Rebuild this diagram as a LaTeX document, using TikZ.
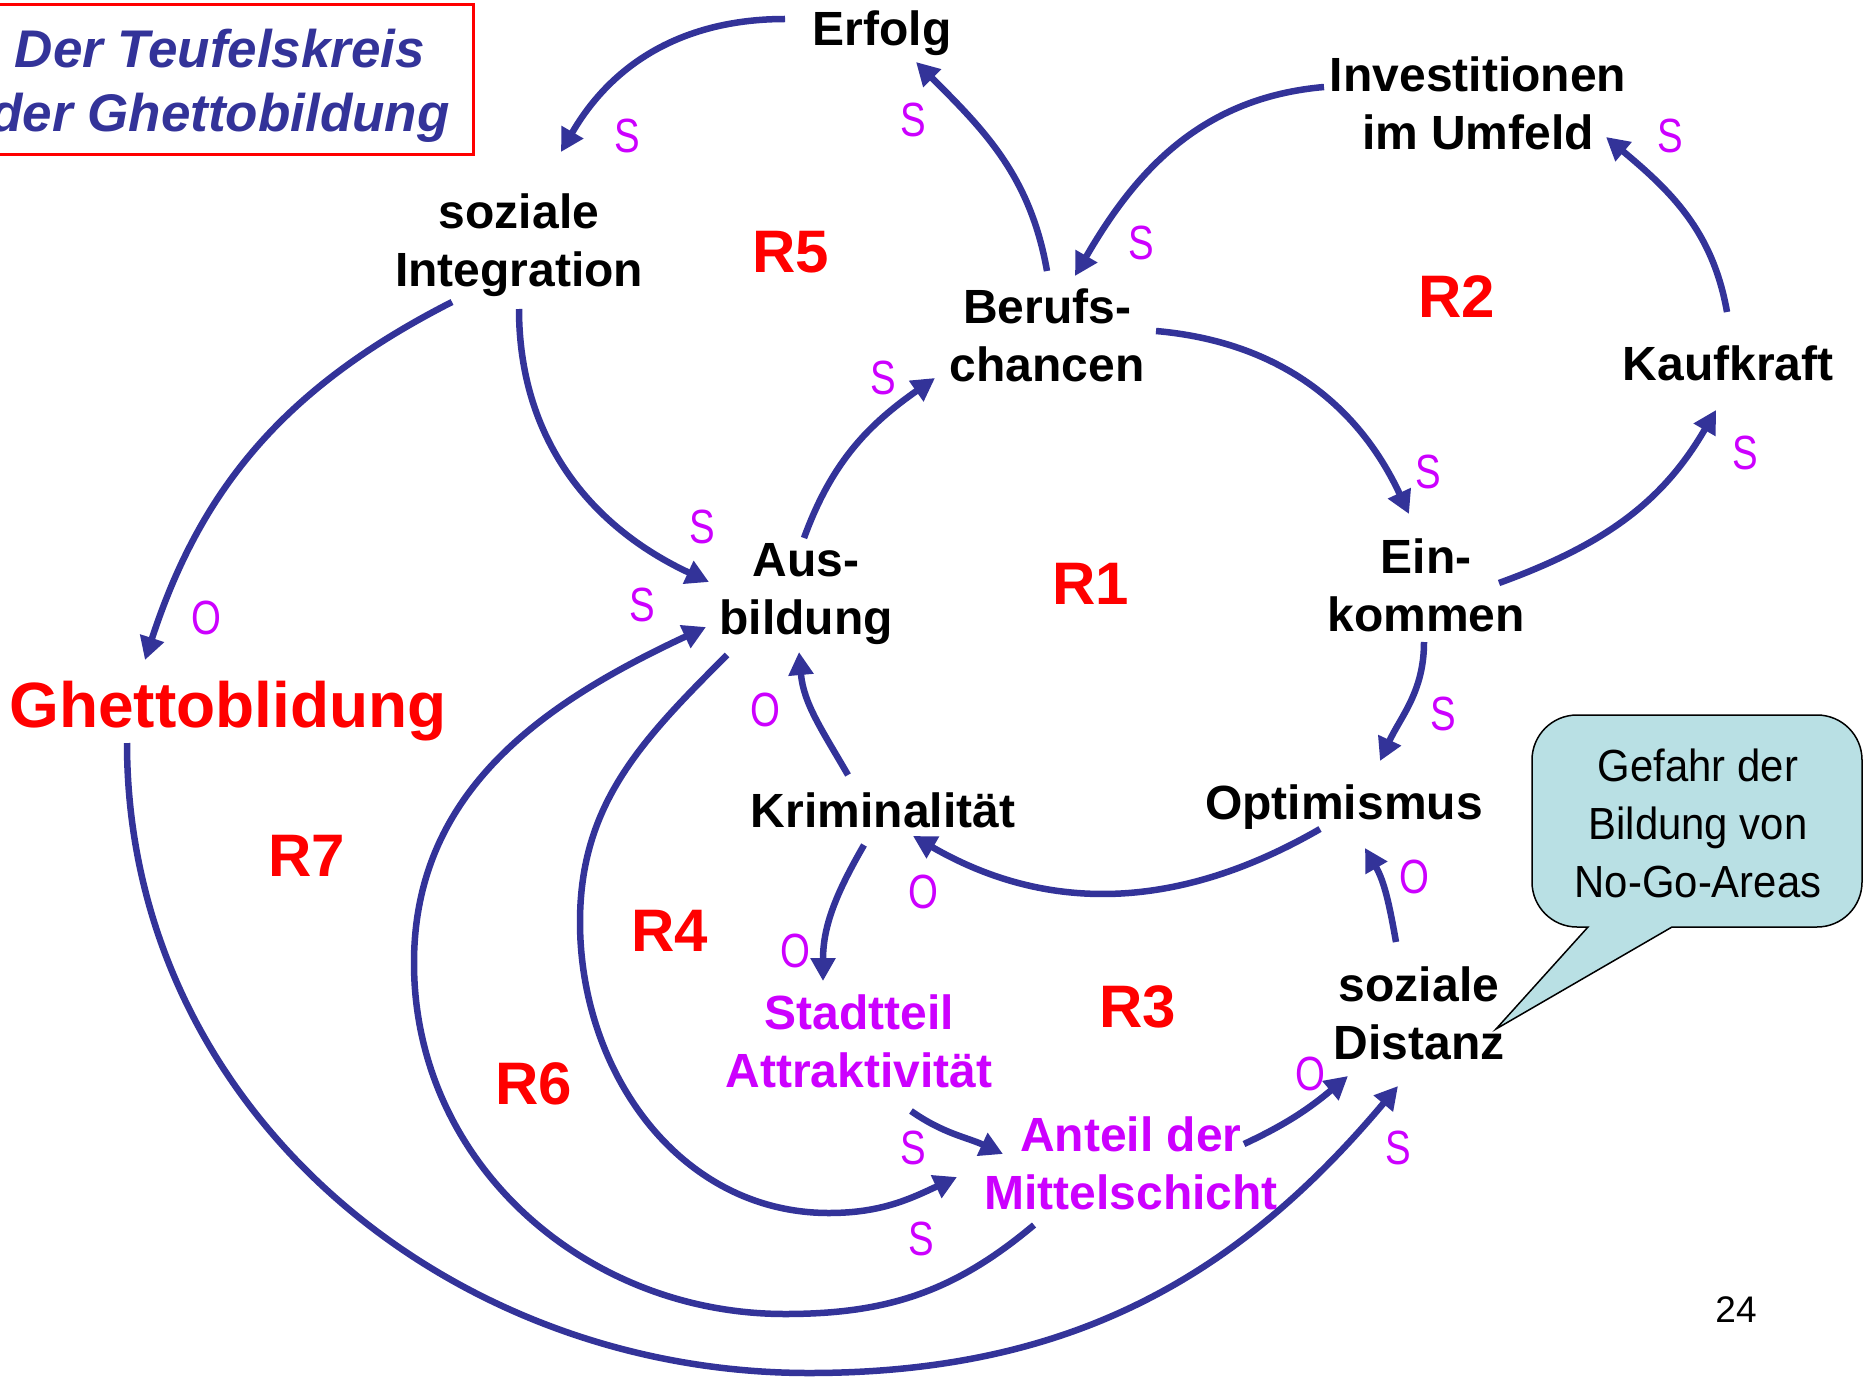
\documentclass[tikz,border=0pt]{standalone}
\usepackage{fontspec}
\setmainfont{Liberation Sans}
\newfontfamily\narrowfont[FakeStretch=0.8]{Liberation Sans}
\newfontfamily\calloutfont[FakeStretch=0.93]{Liberation Sans}
\usetikzlibrary{arrows.meta}
\definecolor{arrblue}{RGB}{51,51,153}
\definecolor{mag}{RGB}{204,0,255}
\definecolor{callfill}{RGB}{185,224,228}
\begin{document}
\begin{tikzpicture}[x=1pt,y=1pt,
  var/.style={font=\fontsize{48}{58}\selectfont\bfseries, align=center, text=black, inner sep=0pt},
  magvar/.style={var, text=mag},
  loopname/.style={font=\fontsize{60}{72}\selectfont\bfseries, text=red, inner sep=0pt},
  pol/.style={font=\narrowfont\fontsize{48}{58}\selectfont, text=mag, inner sep=0pt},
  link/.style={draw=arrblue, line width=6.5pt, -{Triangle[length=23pt,width=24pt]}},
  titlestyle/.style={font=\fontsize{53}{64}\selectfont\bfseries\itshape, text=arrblue, align=center, inner sep=0pt},
  callt/.style={font=\calloutfont\fontsize{45}{58}\selectfont, align=center, inner sep=0pt}
]
\useasboundingbox (0,0) rectangle (1865,-1380);
\clip (0,0) rectangle (1865,-1380);

% title
\draw[red, line width=3pt] (-40,-5) rectangle (473,-155);
\node[titlestyle] (title) at (220,-86) {Der Teufelskreis\\der Ghettobildung};

% variables
\node[var] (erfolg) at (882,-33) {Erfolg};
\node[var] (invest) at (1478,-103) {Investitionen\\im Umfeld};
\node[var] (sozint) at (519,-245) {soziale\\Integration};
\node[var] (berufs) at (1047,-335) {Berufs-\\chancen};
\node[var] (kauf) at (1728,-363) {Kaufkraft};
\node[var] (ausb) at (806,-594) {Aus-\\bildung};
\node[var] (eink) at (1426,-585) {Ein-\\kommen};
\node[font=\fontsize{64}{77}\selectfont\bfseries, text=red, inner sep=0pt] (ghetto) at (228,-711) {Ghettoblidung};
\node[var] (krim) at (883,-810) {Kriminalität};
\node[var] (optim) at (1344,-807) {Optimismus};
\node[var] (sozdist) at (1419,-1013) {soziale\\Distanz};
\node[magvar] (stadt) at (859,-1041) {Stadtteil\\Attraktivität};
\node[magvar] (anteil) at (1131,-1163) {Anteil der\\Mittelschicht};

% loop names
\node[loopname] (r1) at (1091,-584) {R1};
\node[loopname] (r2) at (1457,-297) {R2};
\node[loopname] (r3) at (1138,-1007) {R3};
\node[loopname] (r4) at (670,-931) {R4};
\node[loopname] (r5) at (791,-252) {R5};
\node[loopname] (r6) at (534,-1084) {R6};
\node[loopname] (r7) at (307,-856) {R7};

% callout
\draw[black, line width=1.5pt, fill=callfill]
  (1577,-715) -- (1817,-715) arc[start angle=90,end angle=0,radius=45]
  -- (1862,-882) arc[start angle=0,end angle=-90,radius=45]
  -- (1672,-927) -- (1496,-1029) -- (1588,-927) -- (1577,-927)
  arc[start angle=-90,end angle=-180,radius=45]
  -- (1532,-760) arc[start angle=180,end angle=90,radius=45] -- cycle;
\node[callt] (callout) at (1698,-823) {Gefahr der\\Bildung von\\No-Go-Areas};

\node[font=\fontsize{37}{44}\selectfont, inner sep=0pt] (pagenum) at (1736,-1310) {24};

% polarity labels
\node[pol] (s1) at (627,-136) {S};
\node[pol] (s2) at (913,-120) {S};
\node[pol] (s3) at (1670,-136) {S};
\node[pol] (s4) at (1141,-243) {S};
\node[pol] (s5) at (883,-378) {S};
\node[pol] (s6) at (1428,-472) {S};
\node[pol] (s7) at (1745,-453) {S};
\node[pol] (s8) at (702,-527) {S};
\node[pol] (s9) at (642,-605) {S};
\node[pol] (o1) at (206,-618) {O};
\node[pol] (o2) at (765,-710) {O};
\node[pol] (s10) at (1443,-714) {S};
\node[pol] (o3) at (1414,-877) {O};
\node[pol] (o4) at (923,-892) {O};
\node[pol] (o5) at (795,-951) {O};
\node[pol] (o6) at (1310,-1074) {O};
\node[pol] (s11) at (913,-1148) {S};
\node[pol] (s12) at (1398,-1148) {S};
\node[pol] (s13) at (921,-1239) {S};

% connector end points
\coordinate (a1s) at (785,-19);   \coordinate (a1e) at (561,-152);
\coordinate (a2s) at (1047,-271); \coordinate (a2e) at (916,-62);
\coordinate (a3s) at (1324,-87);  \coordinate (a3e) at (1075,-276);
\coordinate (a4s) at (1727,-312); \coordinate (a4e) at (1606,-137);
\coordinate (a5s) at (1156,-331); \coordinate (a5e) at (1409,-514);
\coordinate (a6s) at (1499,-583); \coordinate (a6e) at (1716,-410);
\coordinate (a7s) at (804,-538);  \coordinate (a7e) at (935,-378);
\coordinate (a8s) at (519,-309);  \coordinate (a8e) at (709,-582);
\coordinate (a9s) at (452,-302);  \coordinate (a9e) at (145,-660);
\coordinate (a10s) at (1424,-642); \coordinate (a10e) at (1380,-761);
\coordinate (a11s) at (1320,-829); \coordinate (a11e) at (913,-836);
\coordinate (a12s) at (848,-775);  \coordinate (a12e) at (799,-652);
\coordinate (a13s) at (864,-845);  \coordinate (a13e) at (823,-981);
\coordinate (a14s) at (1396,-942); \coordinate (a14e) at (1365,-848);
\coordinate (a15s) at (911,-1111); \coordinate (a15e) at (1003,-1154);
\coordinate (a16s) at (1244,-1144); \coordinate (a16e) at (1348,-1076);
\coordinate (a17s) at (727,-655);  \coordinate (a17a) at (580,-922);
\coordinate (a17b) at (829,-1213); \coordinate (a17e) at (957,-1177);
\coordinate (a18s) at (1034,-1225); \coordinate (a18a) at (785,-1314);
\coordinate (a18b) at (414,-963);   \coordinate (a18e) at (706,-627);
\coordinate (a19s) at (127,-743);   \coordinate (a19a) at (809,-1373);
\coordinate (a19e) at (1398,-1086);

% connectors
\draw[link] (a1s) to[out=180,in=60] (a1e);
\draw[link] (a2s) to[out=100,in=-45] (a2e);
\draw[link] (a3s) to[out=185,in=60] (a3e);
\draw[link] (a4s) to[out=100,in=-40] (a4e);
\draw[link] (a5s) to[out=-5,in=115] (a5e);
\draw[link] (a6s) to[out=20,in=-120] (a6e);
\draw[link] (a7s) to[out=70,in=-145] (a7e);
\draw[link] (a8s) to[out=-90,in=155] (a8e);
\draw[link] (a9s) to[out=-153,in=72] (a9e);
\draw[link] (a10s) to[out=-90,in=65] (a10e);
\draw[link] (a11s) to[out=-150,in=-30] (a11e);
\draw[link] (a12s) to[out=120,in=-85] (a12e);
\draw[link] (a13s) to[out=-120,in=90] (a13e);
\draw[link] (a14s) to[out=100,in=-60] (a14e);
\draw[link] (a15s) to[out=-35,in=155] (a15e);
\draw[link] (a16s) to[out=25,in=-140] (a16e);
\draw[link] (a17s) to[out=-135,in=90] (a17a) to[out=-90,in=180] (a17b) to[out=0,in=-155] (a17e);
\draw[link] (a18s) to[out=-140,in=0] (a18a) to[out=180,in=-90] (a18b) to[out=90,in=-155] (a18e);
\draw[link] (a19s) to[out=-90,in=180] (a19a) to[out=0,in=-130] (a19e);
\end{tikzpicture}
\end{document}
